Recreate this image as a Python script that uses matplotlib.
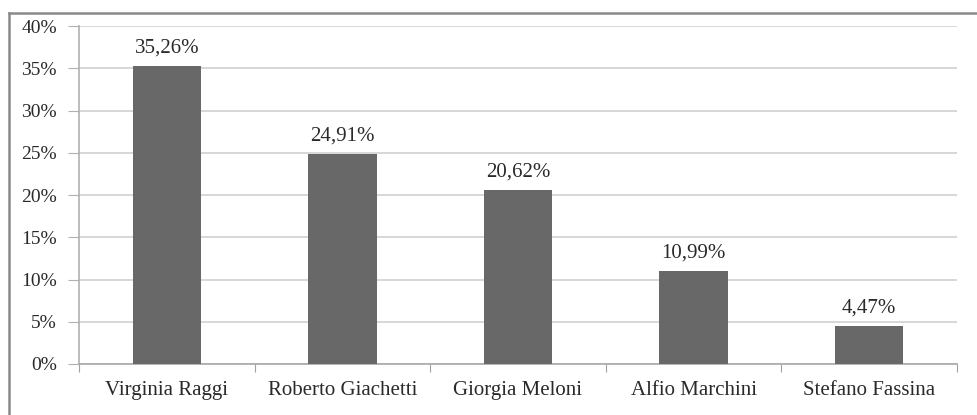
import matplotlib
matplotlib.use('Agg')
from matplotlib import pyplot as plt
from matplotlib.lines import Line2D

candidati = ['Virginia Raggi', 'Roberto Giachetti', 'Giorgia Meloni',
             'Alfio Marchini', 'Stefano Fassina']
voti = [35.26, 24.91, 20.62, 10.99, 4.47]
yticks = [0, 5, 10, 15, 20, 25, 30, 35, 40]

plt.rcParams['font.family'] = ['Liberation Serif', 'DejaVu Serif']

fig = plt.figure(figsize=(9.78, 4.15), dpi=100)
ax = fig.add_axes([0.0808, 0.1229, 0.8977, 0.8144])

x = list(range(len(candidati)))
ax.bar(x, voti, width=0.39, color='#686868', zorder=3)
for xi, v in zip(x, voti):
    lab = ('%.2f' % v).replace('.', ',') + '%'
    ax.annotate(lab, (xi, v), xytext=(0, 6), textcoords='offset points',
                ha='center', va='bottom', fontsize=15, color='#2a2a2a')

ax.set_xlim(-0.5, len(candidati) - 0.5)
ax.set_ylim(0, 40)
ax.set_yticks(yticks)
ax.set_yticklabels(['%d%%' % t for t in yticks], fontsize=14, color='#2a2a2a')
ax.set_xticks([i - 0.5 for i in range(len(candidati) + 1)], minor=False)
ax.set_xticklabels([''] * (len(candidati) + 1))
ax.set_xticks(x, minor=True)
ax.set_xticklabels(candidati, minor=True, fontsize=15, color='#2a2a2a')
ax.tick_params(axis='x', which='minor', length=0, pad=12)
ax.tick_params(axis='x', which='major', length=6, color='#a0a0a0', direction='out')
ax.tick_params(axis='y', length=8, color='#b0b0b0', pad=8)

ax.grid(axis='y', color='#d4d4d4', linewidth=1.3, zorder=0)
for s in ['top', 'right']:
    ax.spines[s].set_visible(False)
ax.spines['left'].set_color('#b0b0b0')
ax.spines['bottom'].set_color('#a8a8a8')
ax.spines['left'].set_linewidth(1.2)
ax.spines['bottom'].set_linewidth(1.2)

# cornice esterna (solo lati alto e sinistro visibili)
fig.add_artist(Line2D([9 / 978, 1], [1 - 13 / 415, 1 - 13 / 415],
                      transform=fig.transFigure, color='#8a8a8a', linewidth=1.8))
fig.add_artist(Line2D([9 / 978, 9 / 978], [0, 1 - 13 / 415],
                      transform=fig.transFigure, color='#8a8a8a', linewidth=1.8))

fig.savefig('out.png', dpi=100)
